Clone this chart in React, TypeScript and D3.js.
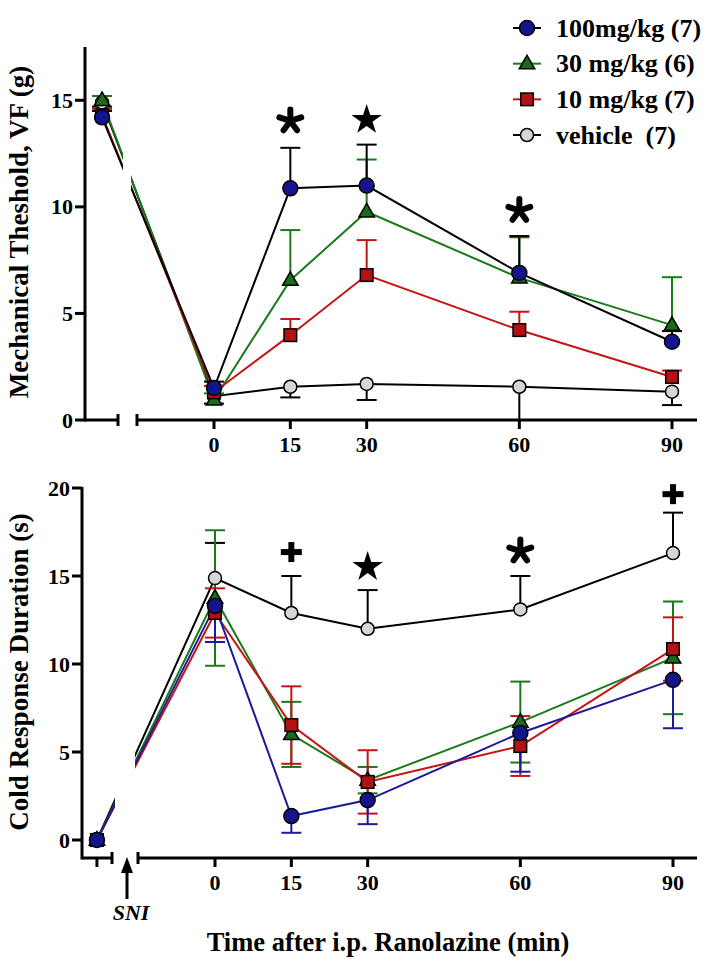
import React from "react";
import * as d3 from "d3";

// ---------- DATA ----------
const times: (string | number)[] = ["pre", 0, 15, 30, 60, 90];
const tickMinutes = [0, 15, 30, 60, 90];

const seriesNames = ["100mg/kg (7)", "30 mg/kg (6)", "10 mg/kg (7)", "vehicle  (7)"];

// Mechanical threshold (g)
const mech100 = [14.2, 1.5, 10.87, 11.0, 6.9, 3.67];
const mech100Err = [0.3, 0.3, 1.9, 1.92, 1.73, 0.5];
const mech30 = [15.0, 0.95, 6.56, 9.77, 6.67, 4.45];
const mech30Err = [0.2, 0.3, 2.35, 2.45, 1.9, 2.25];
const mech10 = [14.3, 1.3, 3.98, 6.8, 4.22, 2.02];
const mech10Err = [0.3, 0.3, 0.76, 1.64, 0.86, 0.3];
const mechVeh = [14.9, 1.12, 1.56, 1.69, 1.56, 1.33];
const mechVehErr = [0.2, 0.35, 0.5, 0.75, 1.56, 0.63];

// Cold response duration (s)
const cold100 = [0, 13.3, 1.36, 2.27, 6.08, 9.1];
const cold100Err = [0, 2.05, 0.95, 1.37, 2.2, 2.75];
const cold30 = [0, 13.75, 6.0, 3.4, 6.7, 10.35];
const cold30Err = [0, 3.85, 1.85, 0.75, 2.3, 3.2];
const cold10 = [0, 12.9, 6.53, 3.3, 5.34, 10.85];
const cold10Err = [0, 1.4, 2.2, 1.8, 1.7, 1.8];
const coldVeh = [0, 14.88, 12.9, 12.0, 13.1, 16.3];
const coldVehErr = [0, 2.0, 2.1, 2.2, 1.9, 2.3];

// significance annotations: [minute, value, symbol]
const sigTop: [number, number, string][] = [
  [15, 14.1, "asterisk"],
  [30, 14.15, "star"],
  [60, 9.9, "asterisk"],
];
const sigBottom: [number, number, string][] = [
  [15, 16.36, "plus"],
  [30, 15.6, "star"],
  [60, 16.5, "asterisk"],
  [90, 19.65, "plus"],
];

const topTicks = [0, 5, 10, 15];
const bottomTicks = [0, 5, 10, 15, 20];

// ---------- STYLE ----------
const FONT = "'Liberation Serif', 'Times New Roman', serif";
const BLUE = "#14148c";
const BLUE_LINE = "#1a1a9c";
const GREEN = "#1b6b1b";
const GREEN_LINE = "#1a7a1a";
const RED = "#b31212";
const RED_LINE = "#c41414";
const GRAY = "#d6d6d6";

type Shape = "circle" | "triangle" | "square" | "vcircle";

function Marker({ shape, x, y, fill }: { shape: Shape; x: number; y: number; fill: string }) {
  if (shape === "circle") return <circle cx={x} cy={y} r={7.5} fill={fill} stroke="#000" strokeWidth={1.5} />;
  if (shape === "vcircle") return <circle cx={x} cy={y} r={6.5} fill={fill} stroke="#000" strokeWidth={1.5} />;
  if (shape === "square")
    return <rect x={x - 6.3} y={y - 6.3} width={12.6} height={12.6} fill={fill} stroke="#000" strokeWidth={1.5} />;
  const h = 13.5, w = 15.5;
  return (
    <path
      d={`M${x},${y - h * 0.62}L${x + w / 2},${y + h * 0.38}L${x - w / 2},${y + h * 0.38}Z`}
      fill={fill}
      stroke="#000"
      strokeWidth={1.5}
      strokeLinejoin="miter"
    />
  );
}

function SigSymbol({ sym, x, y }: { sym: string; x: number; y: number }) {
  if (sym === "star") {
    const R = 16;
    const size = (R * R) / 0.8908130915292852;
    const p = d3.symbol(d3.symbolStar, size)() as string;
    return <path d={p} transform={`translate(${x},${y + 1.5})`} fill="#000" />;
  }
  if (sym === "plus") {
    return (
      <g stroke="#000" strokeWidth={6}>
        <line x1={x - 10.5} x2={x + 10.5} y1={y} y2={y} />
        <line x1={x} x2={x} y1={y - 10} y2={y + 10} />
      </g>
    );
  }
  // asterisk: five arms
  const L = 11.5;
  const angles = [0, 72, 144, 216, 288];
  const cy = y + 1.5;
  return (
    <g stroke="#000" strokeWidth={6} strokeLinecap="round">
      {angles.map((a) => {
        const r = (a * Math.PI) / 180;
        return <line key={a} x1={x} y1={cy} x2={x + L * Math.sin(r)} y2={cy - L * Math.cos(r)} />;
      })}
    </g>
  );
}

interface SeriesDef {
  values: number[];
  err: number[];
  shape: Shape;
  fill: string;
  line: string;
  errColor: string;
  up: boolean;
  down: boolean;
}

interface PanelProps {
  id: string;
  xScale: d3.ScaleLinear<number, number>;
  yScale: d3.ScaleLinear<number, number>;
  preMinute: number;
  series: SeriesDef[];
  ticks: number[];
  yAxisX: number;
  yAxisTop: number;
  xAxisY: number;
  seg1End: number;
  seg2Start: number;
  axisRight: number;
  gap: [number, number];
  preTick: boolean;
  yLabel: string;
  yLabelY: number;
  sig: [number, number, string][];
}

function Panel(p: PanelProps) {
  const xOf = (t: string | number) => p.xScale(t === "pre" ? p.preMinute : (t as number));
  const line = d3
    .line<number>()
    .x((_, i) => xOf(times[i]))
    .y((v) => p.yScale(v));
  const clipId = `clip-${p.id}`;
  const capW = 10;
  return (
    <g>
      <defs>
        <clipPath id={clipId}>
          <rect x={0} y={0} width={p.gap[0]} height={969} />
          <rect x={p.gap[1]} y={0} width={714 - p.gap[1]} height={969} />
        </clipPath>
      </defs>
      {/* lines */}
      <g clipPath={`url(#${clipId})`}>
        {p.series.map((s, si) => (
          <path key={si} d={line(s.values) as string} fill="none" stroke={s.line} strokeWidth={2} />
        ))}
      </g>
      {/* error bars */}
      {p.series.map((s, si) => (
        <g key={si} stroke={s.errColor} strokeWidth={2}>
          {s.values.map((v, i) => {
            if (!s.err[i]) return null;
            const x = xOf(times[i]);
            const y0 = p.yScale(v);
            const yU = p.yScale(v + s.err[i]);
            const yD = p.yScale(Math.max(0, v - s.err[i]));
            return (
              <g key={i}>
                {s.up && <line x1={x} x2={x} y1={y0} y2={yU} />}
                {s.up && <line x1={x - capW} x2={x + capW} y1={yU} y2={yU} />}
                {s.down && <line x1={x} x2={x} y1={y0} y2={yD} />}
                {s.down && <line x1={x - capW} x2={x + capW} y1={yD} y2={yD} />}
              </g>
            );
          })}
        </g>
      ))}
      {/* markers */}
      {p.series.map((s, si) => (
        <g key={si}>
          {s.values.map((v, i) => (
            <Marker key={i} shape={s.shape} x={xOf(times[i])} y={p.yScale(v)} fill={s.fill} />
          ))}
        </g>
      ))}
      {/* axes */}
      <g stroke="#000" strokeWidth={3} fill="none">
        <line x1={p.yAxisX} x2={p.yAxisX} y1={p.yAxisTop} y2={p.xAxisY + 1.5} />
        <line x1={p.yAxisX} x2={p.seg1End} y1={p.xAxisY} y2={p.xAxisY} />
        <line x1={p.seg1End} x2={p.seg1End} y1={p.xAxisY - 6} y2={p.xAxisY + 6} />
        <line x1={p.seg2Start} x2={p.axisRight} y1={p.xAxisY} y2={p.xAxisY} />
        <line x1={p.seg2Start} x2={p.seg2Start} y1={p.xAxisY - 6} y2={p.xAxisY + 6} />
        {p.preTick && (
          <line x1={p.xScale(p.preMinute)} x2={p.xScale(p.preMinute)} y1={p.xAxisY} y2={p.xAxisY + 9} />
        )}
        {tickMinutes.map((t) => (
          <line key={t} x1={p.xScale(t)} x2={p.xScale(t)} y1={p.xAxisY} y2={p.xAxisY + 9} />
        ))}
        {p.ticks.map((t) => (
          <line key={t} x1={p.yAxisX - 10} x2={p.yAxisX} y1={p.yScale(t)} y2={p.yScale(t)} />
        ))}
      </g>
      <g fontFamily={FONT} fontWeight="bold" fontSize={22} fill="#000">
        {p.ticks.map((t) => (
          <text key={t} x={p.yAxisX - 12} y={p.yScale(t) + 7.5} textAnchor="end">
            {t}
          </text>
        ))}
        {tickMinutes.map((t) => (
          <text key={t} x={p.xScale(t)} y={p.xAxisY + 32} textAnchor="middle">
            {t}
          </text>
        ))}
      </g>
      <text
        transform={`translate(28,${p.yLabelY}) rotate(-90)`}
        textAnchor="middle"
        fontFamily={FONT}
        fontWeight="bold"
        fontSize={27}
      >
        {p.yLabel}
      </text>
      {p.sig.map(([t, v, sym], i) => (
        <SigSymbol key={i} sym={sym} x={p.xScale(t)} y={p.yScale(v)} />
      ))}
    </g>
  );
}

export default function App() {
  const xTop = d3.scaleLinear().domain([0, 90]).range([214, 672]);
  const yTop = d3.scaleLinear().domain([0, 17.5]).range([420, 47]);
  const xBot = d3.scaleLinear().domain([0, 90]).range([215, 673]);
  const yBot = d3.scaleLinear().domain([0, 20]).range([840, 488]);

  const topSeries: SeriesDef[] = [
    { values: mechVeh, err: mechVehErr, shape: "vcircle", fill: GRAY, line: "#000", errColor: "#000", up: false, down: true },
    { values: mech30, err: mech30Err, shape: "triangle", fill: GREEN, line: GREEN_LINE, errColor: GREEN_LINE, up: true, down: false },
    { values: mech10, err: mech10Err, shape: "square", fill: RED, line: RED_LINE, errColor: RED_LINE, up: true, down: false },
    { values: mech100, err: mech100Err, shape: "circle", fill: BLUE, line: "#000", errColor: "#000", up: true, down: false },
  ];
  const botSeries: SeriesDef[] = [
    { values: coldVeh, err: coldVehErr, shape: "vcircle", fill: GRAY, line: "#000", errColor: "#000", up: true, down: false },
    { values: cold30, err: cold30Err, shape: "triangle", fill: GREEN, line: GREEN_LINE, errColor: GREEN_LINE, up: true, down: true },
    { values: cold10, err: cold10Err, shape: "square", fill: RED, line: RED_LINE, errColor: RED_LINE, up: true, down: true },
    { values: cold100, err: cold100Err, shape: "circle", fill: BLUE, line: BLUE_LINE, errColor: BLUE_LINE, up: false, down: true },
  ];

  const legendShapes: Shape[] = ["circle", "triangle", "square", "vcircle"];
  const legendFills = [BLUE, GREEN, RED, GRAY];
  const legendLines = ["#000", GREEN_LINE, RED_LINE, "#000"];
  const legendY = d3.scaleLinear().domain([0, 3]).range([28, 135]);

  return (
    <svg
      width={714}
      height={969}
      style={{ position: "absolute", left: 0, top: 0, background: "#fff" }}
    >
      <rect width={714} height={969} fill="#fff" />
      <Panel
        id="top"
        xScale={xTop}
        yScale={yTop}
        preMinute={-22}
        series={topSeries}
        ticks={topTicks}
        yAxisX={85}
        yAxisTop={47}
        xAxisY={420}
        seg1End={118}
        seg2Start={137}
        axisRight={697}
        gap={[123, 131]}
        preTick={false}
        yLabel="Mechanical Theshold, VF (g)"
        yLabelY={232}
        sig={sigTop}
      />
      <Panel
        id="bot"
        xScale={xBot}
        yScale={yBot}
        preMinute={-23.2}
        series={botSeries}
        ticks={bottomTicks}
        yAxisX={82}
        yAxisTop={487}
        xAxisY={858}
        seg1End={112}
        seg2Start={138}
        axisRight={697}
        gap={[115, 135]}
        preTick={true}
        yLabel="Cold Response Duration (s)"
        yLabelY={672}
        sig={sigBottom}
      />
      {/* SNI arrow */}
      <g>
        <line x1={127} x2={127} y1={899} y2={870} stroke="#000" strokeWidth={3} />
        <path d="M127,857L133,873L121,873Z" fill="#000" />
        <text x={131} y={920} textAnchor="middle" fontFamily={FONT} fontStyle="italic" fontWeight="bold" fontSize={22}>
          SNI
        </text>
      </g>
      <text x={388} y={951} textAnchor="middle" fontFamily={FONT} fontWeight="bold" fontSize={26.5}>
        Time after i.p. Ranolazine (min)
      </text>
      {/* legend */}
      {seriesNames.map((name, i) => (
        <g key={name}>
          <line x1={513} x2={541} y1={legendY(i)} y2={legendY(i)} stroke={legendLines[i]} strokeWidth={2} />
          <Marker shape={legendShapes[i]} x={527} y={legendY(i)} fill={legendFills[i]} />
          <text x={556} y={legendY(i) + 8.5} fontFamily={FONT} fontWeight="bold" fontSize={26} xmlSpace="preserve" style={{ whiteSpace: "pre" }}>
            {name}
          </text>
        </g>
      ))}
    </svg>
  );
}
